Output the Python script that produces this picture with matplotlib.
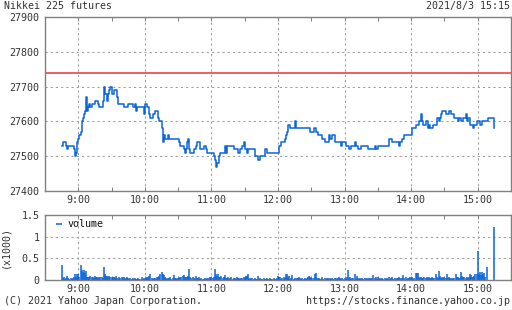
import numpy as np
import matplotlib
matplotlib.use("Agg")
import matplotlib.pyplot as plt
from matplotlib.ticker import MultipleLocator, FixedLocator

plt.rcParams['font.family'] = ['DejaVu Sans Mono']

# price steps (time of change, price)
price_times = [
    "8:45", "8:46", "8:49", "8:50", "8:51", "8:56", "8:57", "8:58", "8:59",
    "9:00", "9:01", "9:02", "9:03", "9:04", "9:05", "9:06", "9:07", "9:08", "9:09",
    "9:10", "9:11", "9:12", "9:15", "9:18", "9:19", "9:22", "9:23", "9:24", "9:26",
    "9:27", "9:28", "9:29", "9:30", "9:32", "9:35", "9:36", "9:41", "9:45", "9:49",
    "9:51", "9:52", "9:53", "9:59", "10:00", "10:02", "10:04", "10:05", "10:07",
    "10:09", "10:12", "10:13", "10:15", "10:16", "10:17", "10:18", "10:21", "10:22",
    "10:31", "10:32", "10:35", "10:36", "10:37", "10:38", "10:39", "10:40", "10:41",
    "10:44", "10:46", "10:47", "10:50", "10:53", "10:55", "10:56", "11:02", "11:03",
    "11:04", "11:05", "11:07", "11:08", "11:12", "11:13", "11:14", "11:20", "11:24",
    "11:26", "11:28", "11:29", "11:30", "11:32", "11:33", "11:39", "11:42", "11:44",
    "11:48", "11:50", "12:01", "12:03", "12:06", "12:07", "12:08", "12:09", "12:11",
    "12:15", "12:16", "12:29", "12:32", "12:34", "12:36", "12:40", "12:42", "12:46",
    "12:47", "12:49", "12:51", "12:57", "12:58", "13:01", "13:04", "13:06", "13:09",
    "13:10", "13:12", "13:15", "13:21", "13:27", "13:28", "13:30", "13:40", "13:43",
    "13:49", "13:50", "13:52", "13:54", "14:01", "14:04", "14:07", "14:09", "14:10",
    "14:11", "14:13", "14:15", "14:16", "14:17", "14:20", "14:23", "14:25", "14:26",
    "14:27", "14:28", "14:31", "14:34", "14:36", "14:39", "14:42", "14:43", "14:45",
    "14:47", "14:49", "14:50", "14:51", "14:53", "14:56", "14:57", "14:59", "15:02",
    "15:04", "15:09", "15:15",
]
price_values = [
    27530, 27540, 27530, 27520, 27530, 27520, 27500, 27510, 27540,
    27550, 27560, 27570, 27600, 27610, 27620, 27630, 27670, 27630, 27640,
    27650, 27640, 27650, 27660, 27650, 27640, 27660, 27700, 27680, 27660,
    27680, 27690, 27700, 27680, 27690, 27670, 27650, 27640, 27650, 27640,
    27650, 27630, 27640, 27620, 27650, 27640, 27620, 27610, 27620,
    27630, 27610, 27600, 27580, 27540, 27560, 27550, 27560, 27550,
    27540, 27530, 27520, 27510, 27520, 27540, 27550, 27520, 27510,
    27520, 27530, 27540, 27520, 27530, 27520, 27510, 27500, 27490,
    27470, 27480, 27500, 27510, 27530, 27510, 27530, 27520, 27510,
    27520, 27530, 27540, 27520, 27510, 27520, 27500, 27490, 27500,
    27520, 27510, 27530, 27540, 27550, 27560, 27570, 27590, 27580,
    27600, 27580, 27570, 27580, 27570, 27560, 27550, 27540, 27560,
    27550, 27560, 27540, 27530, 27540, 27530, 27520, 27530, 27540,
    27530, 27520, 27530, 27520, 27530, 27520, 27530, 27550, 27540,
    27530, 27540, 27550, 27560, 27580, 27590, 27600, 27620, 27600,
    27590, 27600, 27580, 27590, 27580, 27590, 27610, 27600, 27610,
    27620, 27630, 27620, 27630, 27620, 27610, 27600, 27610, 27600,
    27610, 27620, 27600, 27610, 27590, 27580, 27590, 27600, 27590,
    27600, 27610, 27580,
]
prev_close = 27740

# volume per minute, 8:45 .. 15:15
volume = [
    350, 40, 60, 30, 50, 90, 40, 30, 50, 20, 40, 70, 140, 60, 130,
    140, 80, 350, 220, 180, 220, 170, 210, 80, 60, 70, 100, 60, 70, 50,
    90, 60, 70, 50, 80, 60, 60, 40, 300, 140, 100, 90, 70, 90, 60,
    80, 60, 70, 50, 90, 40, 30, 60, 40, 60, 50, 60, 30, 40, 60,
    40, 30, 50, 20, 40, 30, 40, 20, 30, 40, 20, 30, 60, 30, 40,
    30, 40, 60, 70, 100, 150, 40, 30, 50, 40, 30, 60, 80, 100, 140,
    180, 150, 110, 80, 40, 30, 50, 40, 60, 30, 40, 110, 40, 50, 30,
    40, 50, 60, 80, 100, 120, 80, 60, 70, 100, 250, 60, 40, 80, 40,
    30, 90, 50, 40, 60, 30, 40, 20, 30, 50, 30, 40, 20, 40, 60,
    60, 40, 80, 250, 130, 100, 130, 60, 80, 100, 40, 60, 120, 50, 40,
    80, 30, 40, 60, 30, 40, 40, 30, 60, 50, 40, 30, 50, 40, 60,
    50, 100, 90, 150, 40, 30, 40, 50, 30, 40, 20, 30, 90, 30, 40,
    20, 30, 40, 20, 30, 40, 20, 30, 50, 20, 30, 40, 20, 30, 40,
    90, 60, 80, 30, 40, 60, 50, 140, 140, 60, 90, 30, 40, 110, 30,
    40, 30, 50, 40, 60, 40, 30, 40, 30, 40, 30, 40, 80, 90, 70,
    40, 50, 40, 150, 170, 40, 30, 40, 30, 30, 60, 30, 40, 30, 40,
    50, 30, 40, 30, 40, 30, 40, 50, 30, 40, 80, 40, 30, 40, 30,
    40, 30, 60, 230, 40, 60, 30, 40, 40, 140, 30, 90, 40, 30, 40,
    30, 40, 30, 40, 30, 40, 30, 50, 40, 30, 40, 110, 40, 80, 30,
    60, 30, 40, 30, 40, 30, 40, 30, 40, 30, 60, 30, 40, 60, 30,
    40, 30, 50, 40, 60, 40, 30, 50, 110, 40, 70, 30, 40, 50, 80,
    40, 60, 30, 40, 170, 170, 170, 60, 40, 80, 40, 50, 80, 40, 60,
    50, 60, 40, 50, 80, 40, 50, 140, 60, 50, 210, 90, 50, 60, 40,
    80, 50, 140, 40, 60, 40, 50, 30, 40, 40, 140, 60, 80, 50, 40,
    190, 90, 60, 80, 40, 80, 50, 60, 140, 110, 80, 60, 90, 150, 130,
    660, 150, 190, 120, 180, 140, 170, 60, 300, 0, 0, 0, 0, 0, 0,
    1225,
]
hour_labels = ["9:00", "10:00", "11:00", "12:00", "13:00", "14:00", "15:00"]


def to_hours(s):
    h, m = s.split(":")
    return int(h) + int(m) / 60.0


px = np.array([to_hours(t) for t in price_times])
vx = 8.75 + np.arange(len(volume)) / 60.0
vol = np.array(volume) / 1000.0

BLUE = "#0a64dc"
RED = "#ee3333"
TXT = "#333333"
FRAME = "#808080"
GRID = "#9a9a9a"

fig = plt.figure(figsize=(5.12, 3.10), dpi=100)
ax = fig.add_axes([45 / 512, 1 - 191 / 310, 466 / 512, 174 / 310])
ax2 = fig.add_axes([45 / 512, 1 - 280 / 310, 466 / 512, 65 / 310])

for a in (ax, ax2):
    a.set_xlim(8.5, 15.5)
    a.xaxis.set_major_locator(FixedLocator(range(9, 16)))
    a.xaxis.set_minor_locator(FixedLocator([h + 0.5 for h in range(8, 16)]))
    a.set_xticklabels(hour_labels)
    a.grid(True, which="major", color=GRID, lw=0.75, dashes=(2, 3))
    for sp in a.spines.values():
        sp.set_color(FRAME)
        sp.set_linewidth(1.0)
    a.tick_params(axis="x", which="both", direction="in", top=True, length=3,
                  color=FRAME, width=0.7, labelsize=7.2, labelcolor=TXT, pad=3)
    a.tick_params(axis="y", which="both", length=0, labelsize=7.2,
                  labelcolor=TXT, pad=4)

# price
ax.plot(px, price_values, drawstyle="steps-post", color=BLUE, lw=1.1)
ax.axhline(prev_close, color=RED, lw=1.1)
ax.set_ylim(27400, 27900)
ax.yaxis.set_major_locator(MultipleLocator(100))

# volume
ax2.vlines(vx, 0, vol, color=BLUE, lw=1.1, label="volume")
ax2.set_ylim(0, 1.5)
ax2.set_yticks([0, 0.5, 1, 1.5])
ax2.set_yticklabels(["0", "0.5", "1", "1.5"])
ax2.set_ylabel("(x1000)", fontsize=7.2, color=TXT, labelpad=8)
leg = ax2.legend(loc="upper left", bbox_to_anchor=(0.015, 1.0), frameon=False,
                 fontsize=7.2, handlelength=0.6, handletextpad=0.6,
                 borderaxespad=0.2, borderpad=0.2)
for t in leg.get_texts():
    t.set_color("#111111")

fig.text(4 / 512, 1 - 6 / 310, "Nikkei 225 futures", fontsize=7.2, color=TXT,
         va="center", ha="left")
fig.text(510 / 512, 1 - 6 / 310, "2021/8/3 15:15", fontsize=7.2, color=TXT,
         va="center", ha="right")
fig.text(4 / 512, 1 - 301 / 310, "(C) 2021 Yahoo Japan Corporation.", fontsize=7.2,
         color=TXT, va="center", ha="left")
fig.text(510 / 512, 1 - 301 / 310, "https://stocks.finance.yahoo.co.jp", fontsize=7.2,
         color=TXT, va="center", ha="right")

fig.savefig("out.png", dpi=100, facecolor="white")
